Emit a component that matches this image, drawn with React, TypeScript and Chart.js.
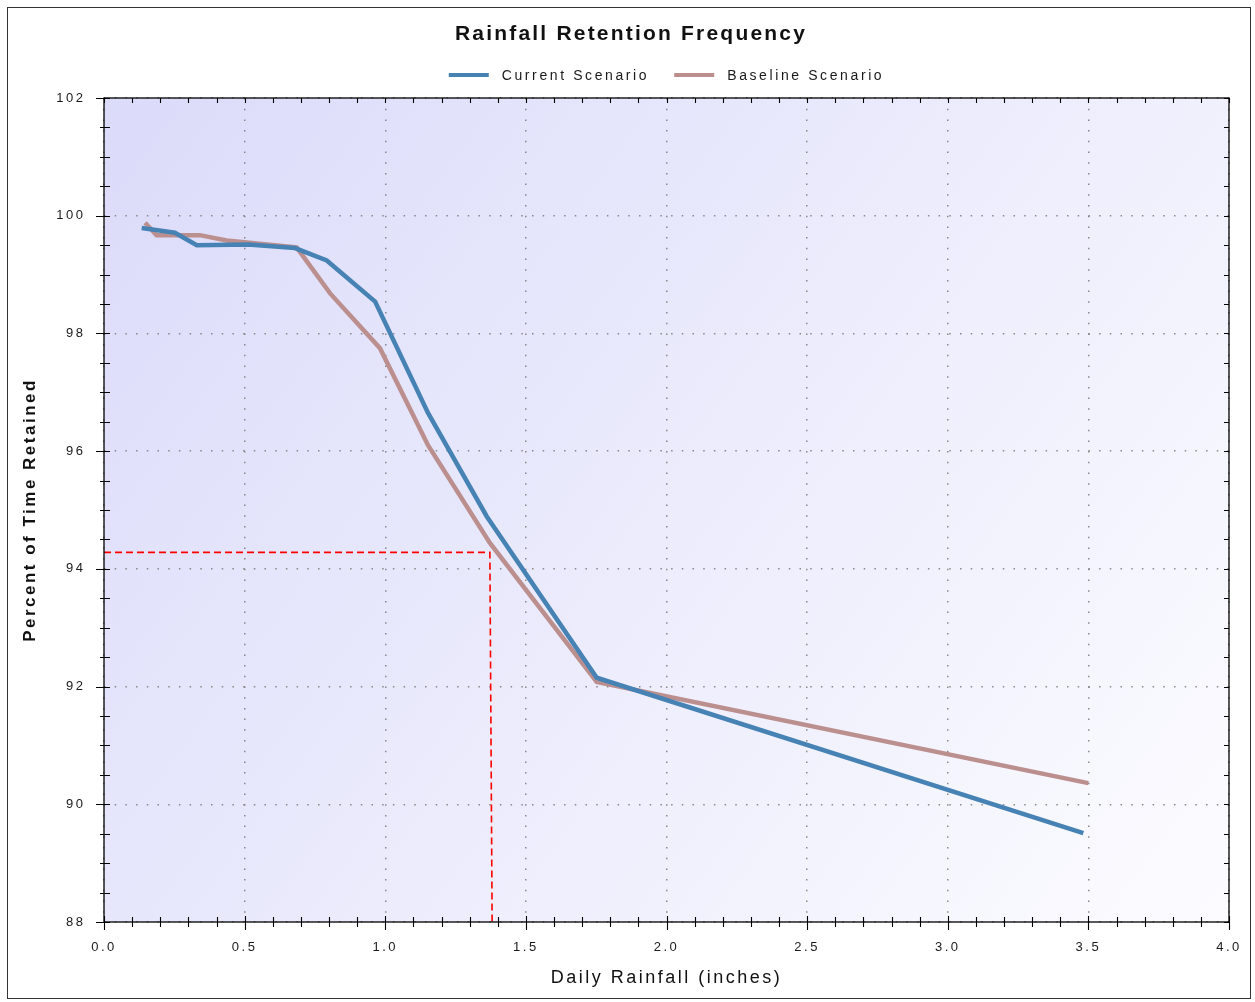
import React, { useEffect, useRef } from "react";
import { Chart, registerables } from "chart.js";

Chart.register(...registerables);

// ---- data ----
const currentX = [0.134, 0.252, 0.33, 0.512, 0.679, 0.792, 0.964, 1.152, 1.361, 1.752, 3.482];
const currentY = [99.79, 99.71, 99.5, 99.51, 99.45, 99.24, 98.54, 96.65, 94.89, 92.15, 89.51];
const baselineX = [0.146, 0.187, 0.341, 0.436, 0.685, 0.804, 0.981, 1.152, 1.372, 1.752, 3.5];
const baselineY = [99.88, 99.67, 99.67, 99.58, 99.46, 98.68, 97.75, 96.1, 94.44, 92.08, 90.36];
const markerX = [0, 1.372, 1.38];
const markerY = [94.28, 94.28, 88];

const seriesLabels = ["Current Scenario", "Baseline Scenario"];
const chartTitle = "Rainfall Retention Frequency";
const xTitle = "Daily Rainfall (inches)";
const yTitle = "Percent of Time Retained";

const FONT = '"Liberation Sans", Arial, sans-serif';
const W = 1242;
const H = 990;

const toPoints = (xs: number[], ys: number[]) => xs.map((x, i) => ({ x, y: ys[i] }));

const decorPlugin = {
  id: "decor",
  beforeDraw(chart: any) {
    const { ctx, chartArea: a } = chart;
    ctx.save();
    const g = ctx.createLinearGradient(a.left, a.top, a.right, a.bottom);
    g.addColorStop(0, "rgb(219,219,250)");
    g.addColorStop(1, "rgb(252,252,255)");
    ctx.fillStyle = g;
    ctx.fillRect(a.left, a.top, a.right - a.left, a.bottom - a.top);
    ctx.restore();
    ctx.letterSpacing = "2.5px";
  },
  beforeDatasetsDraw(chart: any) {
    chart.ctx.letterSpacing = "0px";
  },
  afterDraw(chart: any) {
    const { ctx, chartArea: a } = chart;
    const xs = chart.scales.x;
    const ys = chart.scales.y;
    ctx.save();
    ctx.letterSpacing = "0px";
    ctx.strokeStyle = "#000";
    ctx.lineWidth = 1.3;
    ctx.strokeRect(a.left, a.top, a.right - a.left, a.bottom - a.top);
    ctx.lineWidth = 1.1;
    ctx.beginPath();
    for (let i = 0; i <= 40; i++) {
      const px = Math.round(xs.getPixelForValue(i / 10)) + 0.5;
      const major = i % 5 === 0;
      ctx.moveTo(px, a.bottom - (major ? 6 : 5));
      ctx.lineTo(px, a.bottom + (major ? 8 : 5));
      ctx.moveTo(px, a.top);
      ctx.lineTo(px, a.top + 5);
    }
    for (let i = 0; i <= 28; i++) {
      const py = Math.round(ys.getPixelForValue(88 + i * 0.5)) + 0.5;
      const major = i % 4 === 0;
      ctx.moveTo(a.left - (major ? 8 : 4), py);
      ctx.lineTo(a.left + 6, py);
      ctx.moveTo(a.right - 5, py);
      ctx.lineTo(a.right, py);
    }
    ctx.stroke();

    // title
    ctx.letterSpacing = "2.2px";
    ctx.font = `bold 21px ${FONT}`;
    ctx.fillStyle = "#111";
    ctx.textAlign = "center";
    ctx.textBaseline = "alphabetic";
    ctx.fillText(chartTitle, 623, 32);

    // legend
    ctx.letterSpacing = "2.6px";
    ctx.font = `14px ${FONT}`;
    ctx.textAlign = "left";
    ctx.textBaseline = "middle";
    const sw = 40;
    const gap = 13;
    const itemGap = 25;
    const widths = seriesLabels.map((t) => ctx.measureText(t).width);
    const total = widths.reduce((s, w) => s + sw + gap + w, 0) + itemGap * (widths.length - 1);
    let x = (a.left + a.right) / 2 - total / 2;
    const ly = 67;
    seriesLabels.forEach((t, i) => {
      ctx.fillStyle = chart.data.datasets[i].borderColor;
      ctx.fillRect(x, ly - 2, sw, 4);
      ctx.fillStyle = "#1a1a1a";
      ctx.fillText(t, x + sw + gap, ly + 1);
      x += sw + gap + widths[i] + itemGap;
    });
    ctx.restore();
  },
};

export default function App() {
  const ref = useRef<HTMLCanvasElement | null>(null);

  useEffect(() => {
    if (!ref.current) return;
    const chart = new Chart(ref.current, {
      type: "line",
      data: {
        datasets: [
          {
            label: seriesLabels[0],
            data: toPoints(currentX, currentY),
            borderColor: "#4682B4",
            backgroundColor: "#4682B4",
            borderWidth: 4.5,
            pointRadius: 0,
            tension: 0,
            fill: false,
          },
          {
            label: seriesLabels[1],
            data: toPoints(baselineX, baselineY),
            borderColor: "#BC8F8F",
            backgroundColor: "#BC8F8F",
            borderWidth: 4.5,
            pointRadius: 0,
            tension: 0,
            fill: false,
          },
          {
            label: "marker",
            data: toPoints(markerX, markerY),
            borderColor: "#FF0000",
            backgroundColor: "#FF0000",
            borderWidth: 1.6,
            borderDash: [7, 4],
            pointRadius: 0,
            tension: 0,
            fill: false,
          },
        ],
      } as any,
      options: {
        responsive: false,
        animation: false,
        devicePixelRatio: 1,
        layout: { padding: { left: 8, top: 90, right: 21, bottom: 5 } },
        plugins: {
          legend: { display: false },
          title: { display: false },
          tooltip: { enabled: false },
        },
        scales: {
          x: {
            type: "linear",
            min: 0,
            max: 4,
            ticks: {
              stepSize: 0.5,
              autoSkip: false,
              maxRotation: 0,
              padding: 18,
              color: "#1a1a1a",
              font: { family: FONT, size: 13 },
              callback: (v: any) => Number(v).toFixed(1),
            },
            grid: { color: "rgba(120,120,120,0.85)", lineWidth: 1.5, drawTicks: false },
            border: { display: false, dash: [1.5, 9.2] },
            title: {
              display: true,
              text: xTitle,
              color: "#111",
              font: { family: FONT, size: 18 },
            },
            afterFit: (s: any) => {
              s.height = 71;
              s.paddingLeft = 0;
              s.paddingRight = 0;
            },
          },
          y: {
            type: "linear",
            min: 88,
            max: 102,
            ticks: {
              stepSize: 2,
              padding: 18.5,
              color: "#1a1a1a",
              font: { family: FONT, size: 13 },
            },
            grid: { color: "rgba(120,120,120,0.85)", lineWidth: 1.5, drawTicks: false },
            border: { display: false, dash: [1.5, 9.2] },
            title: {
              display: true,
              text: yTitle,
              color: "#111",
              font: { family: FONT, size: 17, weight: "bold" },
            },
            afterFit: (s: any) => {
              s.width = 88;
            },
          },
        },
      } as any,
      plugins: [decorPlugin],
    });
    return () => chart.destroy();
  }, []);

  return (
    <div
      style={{
        position: "absolute",
        left: 7,
        top: 7,
        width: W,
        height: H,
        border: "1px solid #333",
        background: "#fff",
      }}
    >
      <canvas ref={ref} width={W} height={H} style={{ display: "block" }} />
    </div>
  );
}
